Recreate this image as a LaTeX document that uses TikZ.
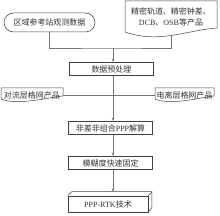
\documentclass[tikz,border=0pt]{standalone}
\usepackage{fontspec}
\setmainfont{Liberation Serif}
\newfontfamily\cjk{Noto Sans CJK SC}
\usetikzlibrary{arrows.meta}
\begin{document}
\begin{tikzpicture}[x=1pt,y=-1pt,
  every node/.style={font=\fontsize{8}{10.5}\selectfont, text=black!80, inner sep=0pt},
  box/.style={draw=black!75, line width=0.5pt, minimum width=84pt, minimum height=13.5pt},
  outline/.style={draw=black!75, line width=0.5pt},
  conn/.style={draw=black!55, line width=0.5pt},
  arr/.style={conn, -{Stealth[length=3.5pt,width=2.5pt]}}]
\useasboundingbox (0,0) rectangle (220,216);

% top left: rounded box
\node[outline, rounded corners=9.5pt, minimum width=91pt, minimum height=19pt] (obs) at (49.5,22.5) {\cjk 区域参考站观测数据};

% top right: document shape
\draw[outline] (125,1) -- (217,1) -- (217,28) .. controls (187,30) and (160,44) .. (125,32) -- cycle;
\node[align=center] (prod) at (171,17) {{\cjk 精密轨道、精密钟差、}\\DCB{\cjk 、}OSB{\cjk 等产品}};
\coordinate (pb) at (171,35.4);

\coordinate (j1) at (113,48);

% main boxes
\node[box] (pre) at (111.5,69) {\cjk 数据预处理};

% troposphere / ionosphere documents
\draw[outline] (1,88) -- (63,88) -- (63,96) .. controls (50,97) and (18,106) .. (1,99) -- cycle;
\node[minimum width=62pt, minimum height=10pt] (trop) at (32,95) {\raisebox{0.6pt}{\cjk 对流层格网产品}};
\draw[outline] (155,88) -- (214,88) -- (214,96) .. controls (202,97) and (171,106) .. (155,99) -- cycle;
\node[minimum width=59pt, minimum height=10pt] (iono) at (184.5,95) {\raisebox{0.6pt}{\cjk 电离层格网产品}};

\node[box] (ppp) at (110.5,128) {{\cjk 非差非组合}PPP{\cjk 解算}};
\node[box] (amb) at (110.5,163) {\cjk 模糊度快速固定};

% 3D box
\node[outline, fill=white, minimum width=80pt, minimum height=16pt] (rtk) at (108,204) {PPP-RTK{\cjk 技术}};
\draw[outline, line join=round] (rtk.north west) -- ++(4,-4) -- ++(80,0) -- ++(0,16) -- (rtk.south east);
\draw[outline] (rtk.north east) -- ++(4,-4);
\coordinate (rtop) at (113,192);

% connectors
\draw[conn] (obs.south) |- (j1) -| (pb);
\draw[arr] (j1) -- (j1 |- pre.north);
\draw[conn] (trop.east) -- (iono.west);
\draw[arr] (pre.south -| j1) -- (ppp.north -| j1);
\draw[arr] (ppp.south -| j1) -- (amb.north -| j1);
\draw[arr] (amb.south -| j1) -- (rtop);
\end{tikzpicture}
\end{document}
